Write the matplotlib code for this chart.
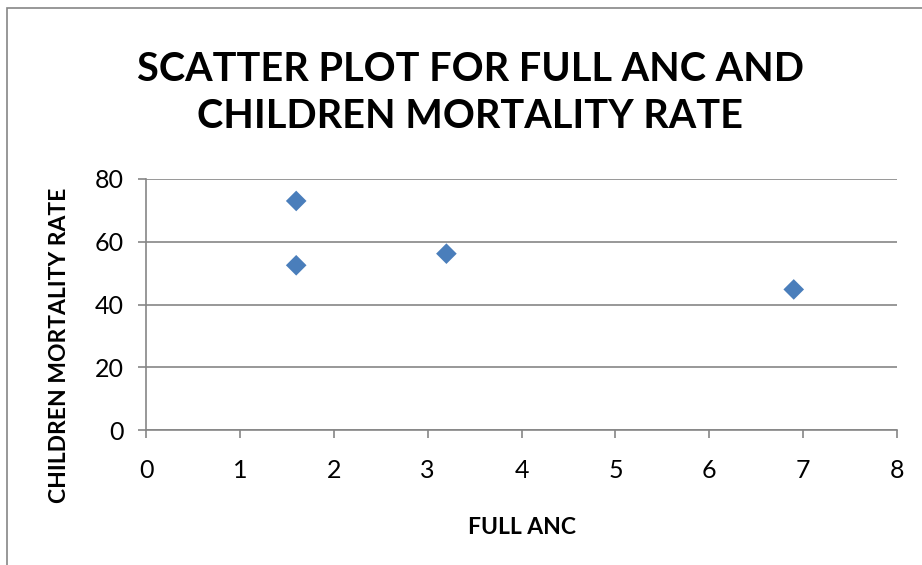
import matplotlib.pyplot as plt
from matplotlib.patches import Rectangle

full_anc = [1.6, 1.6, 3.2, 6.9]
mortality = [73, 52.5, 56.2, 44.8]
x_ticks = [0, 1, 2, 3, 4, 5, 6, 7, 8]
y_ticks = [0, 20, 40, 60, 80]

plt.rcParams['font.family'] = ['Lato', 'DejaVu Sans']
grey = '#868686'

fig = plt.figure(figsize=(9.22, 5.65), dpi=100)
ax = fig.add_axes([146/922, 1 - 430/565, (897 - 146)/922, (430 - 179)/565])

# chart area border (only top and left visible, cropped on the other sides)
fig.patches.append(Rectangle((7/922, -0.1), 1.2, 1 - 8/565 + 0.1, transform=fig.transFigure,
                             fill=False, edgecolor=grey, linewidth=1.2))

ax.scatter(full_anc, mortality, marker='D', s=10.5**2, color='#4A7EBB', edgecolors='none', zorder=3)

ax.set_xlim(0, 8)
ax.set_ylim(0, 80)
ax.set_xticks(x_ticks)
ax.set_yticks(y_ticks)
ax.yaxis.grid(True, color=grey, linewidth=1.2)
ax.set_axisbelow(True)
for s in ['top', 'right']:
    ax.spines[s].set_visible(False)
for s in ['left', 'bottom']:
    ax.spines[s].set_color(grey)
    ax.spines[s].set_linewidth(1.2)
ax.tick_params(axis='x', direction='out', length=6, width=1.2, color=grey, labelsize=18, pad=15)
ax.tick_params(axis='y', direction='out', length=6, width=1.2, color=grey, labelsize=18, pad=10)

fig.text(470/922, 1 - 93/565, 'SCATTER PLOT FOR FULL ANC AND\nCHILDREN MORTALITY RATE',
         ha='center', va='center', fontsize=28.5, fontweight='bold', linespacing=1.35)
fig.text(522/922, 1 - 527/565, 'FULL ANC', ha='center', va='center', fontsize=16.5, fontweight='bold')
fig.text(60/922, 1 - 345/565, 'CHILDREN MORTALITY RATE', ha='center', va='center',
         rotation=90, fontsize=16.5, fontweight='bold')

fig.savefig('out.png', dpi=100)
